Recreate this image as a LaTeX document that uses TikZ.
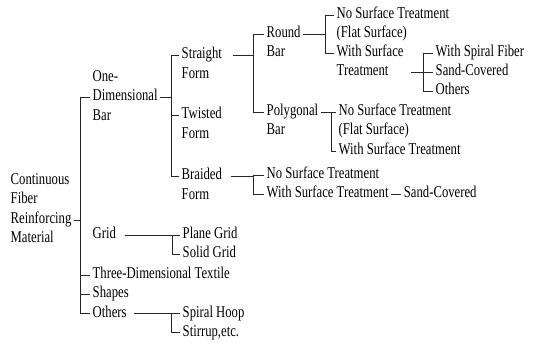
\documentclass[tikz,border=0pt]{standalone}
\usepackage{fontspec}
\setmainfont{Liberation Serif}[FakeStretch=0.77]
\usetikzlibrary{calc}
\begin{document}
\begin{tikzpicture}[x=1pt,y=-1pt,
  lbl/.style={anchor=west,inner xsep=2.5pt,inner ysep=0pt,text height=11.5pt,text depth=3.5pt,font=\fontsize{16.5}{19.5}\selectfont},
  conn/.style={line width=0.6pt,draw=black!85}]
\useasboundingbox (0,0) rectangle (535,344);
% root
\node[lbl] (c1) at (8,181) {Continuous};
\node[lbl] (c2) at (8,200) {Fiber};
\node[lbl] (c3) at (8,220) {Reinforcing};
\node[lbl] (c4) at (8,239) {Material};
% level 1
\node[lbl] (d1) at (90,78) {One-};
\node[lbl] (d2) at (90,97) {Dimensional};
\node[lbl] (d3) at (90,117) {Bar};
\node[lbl] (grid) at (90,235) {Grid};
\node[lbl] (tdt) at (90,275) {Three-Dimensional Textile};
\node[lbl] (shp) at (90,294) {Shapes};
\node[lbl] (oth) at (90,313) {Others};
\coordinate (b0) at (80,0);
\draw[conn] (c3.east) -- (c3.east -| b0);
\draw[conn] (d2.west) -- (d2.west -| b0) -- (oth.west -| b0) -- (oth.west);
\draw[conn] (tdt.west -| b0) -- (tdt.west);
\draw[conn] (shp.west -| b0) -- (shp.west);
% level 2
\coordinate (b1) at (171,0);
\node[lbl] (s1) at (179,55) {Straight};
\node[lbl] (s2) at (179,75) {Form};
\node[lbl] (t1) at (179,115) {Twisted};
\node[lbl] (t2) at (179,135) {Form};
\node[lbl] (r1) at (179,176) {Braided};
\node[lbl] (r2) at (179,196) {Form};
\draw[conn] (d2.east) -- (d2.east -| b1);
\draw[conn] (s1.west) -- (s1.west -| b1) -- (r1.west -| b1) -- (r1.west);
\draw[conn] (t1.west -| b1) -- (t1.west);
% level 3 (straight form)
\coordinate (b2) at (253,0);
\node[lbl] (rd1) at (264,34) {Round};
\node[lbl] (rd2) at (264,53) {Bar};
\node[lbl] (pg1) at (264,112) {Polygonal};
\node[lbl] (pg2) at (264,131) {Bar};
\draw[conn, shorten <=8pt] (s1.east) -- (s1.east -| b2);
\draw[conn] (rd1.west) -- (rd1.west -| b2) -- (pg1.west -| b2) -- (pg1.west);
% round bar
\coordinate (b3) at (325,0);
\node[lbl] (n1) at (334,15) {No Surface Treatment};
\node[lbl] (f1) at (334,34) {(Flat Surface)};
\node[lbl] (w1) at (334,53) {With Surface};
\node[lbl] (w1b) at (334,72) {Treatment};
\draw[conn] (rd1.east) -- (rd1.east -| b3);
\draw[conn] (n1.west) -- (n1.west -| b3) -- (w1.west -| b3) -- (w1.west);
% surface treatment kinds
\coordinate (b4) at (423,0);
\node[lbl] (sp) at (433,53) {With Spiral Fiber};
\node[lbl] (sc1) at (433,72) {Sand-Covered};
\node[lbl] (o2) at (433,91) {Others};
\draw[conn, shorten <=20pt] (w1b.east) -- (sc1.west);
\draw[conn] (sp.west) -- (sp.west -| b4) -- (o2.west -| b4) -- (o2.west);
% polygonal bar
\coordinate (b5) at (331,0);
\node[lbl] (n2) at (336,112) {No Surface Treatment};
\node[lbl] (f2) at (336,131) {(Flat Surface)};
\node[lbl] (w2) at (336,151) {With Surface Treatment};
\draw[conn] (pg1.east) -- (n2.west);
\draw[conn] (n2.west -| b5) -- (w2.west -| b5) -- (w2.west);
% braided form
\coordinate (b6) at (253,0);
\node[lbl] (n3) at (264,175) {No Surface Treatment};
\node[lbl] (w3) at (264,194) {With Surface Treatment};
\node[lbl] (sc3) at ($(w3.east)+(10,0)$) {Sand-Covered};
\draw[conn, shorten <=6pt] (r1.east) -- (r1.east -| b6);
\draw[conn] (n3.west) -- (n3.west -| b6) -- (w3.west -| b6) -- (w3.west);
\draw[conn] (w3.east) -- (sc3.west);
% grid
\coordinate (b7) at (172,0);
\node[lbl] (pl) at (180,235) {Plane Grid};
\node[lbl] (sg) at (180,254) {Solid Grid};
\draw[conn, shorten <=6pt] (grid.east) -- (pl.west);
\draw[conn] (pl.west -| b7) -- (sg.west -| b7) -- (sg.west);
% others
\coordinate (b8) at (171,0);
\node[lbl] (sh) at (180,313) {Spiral Hoop};
\node[lbl] (st) at (180,332) {Stirrup,etc.};
\draw[conn, shorten <=5pt] (oth.east) -- (sh.west);
\draw[conn] (sh.west -| b8) -- (st.west -| b8) -- (st.west);
\end{tikzpicture}
\end{document}
